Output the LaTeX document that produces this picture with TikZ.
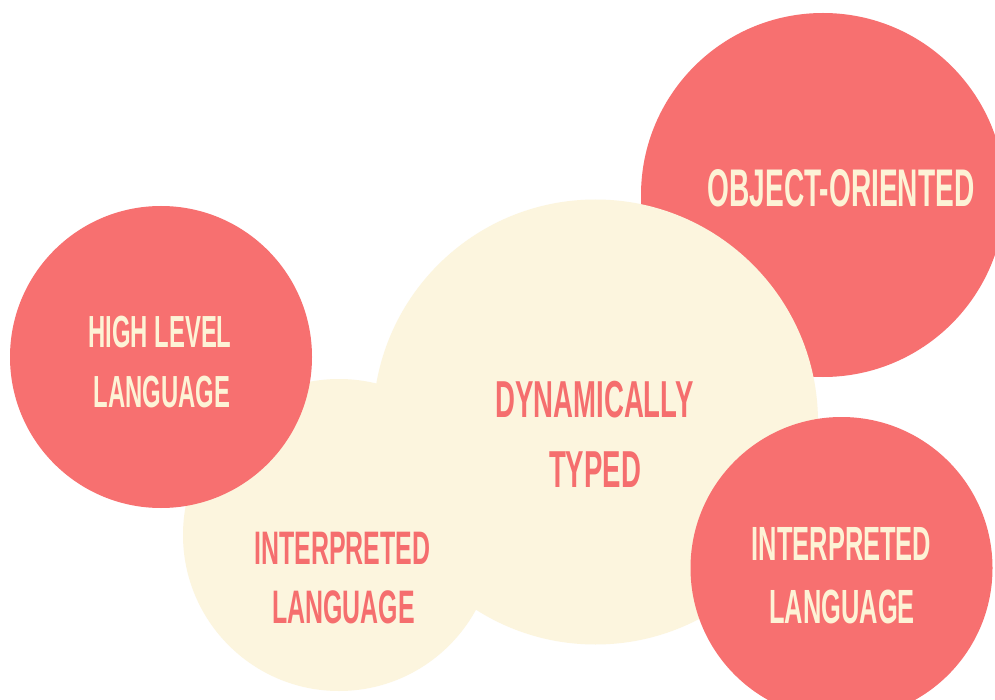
\documentclass[tikz,border=0pt]{standalone}
\usepackage{fontspec}
\newfontfamily\condfont[FakeStretch=0.53]{Liberation Sans}
\definecolor{coral}{RGB}{247,112,112}
\definecolor{creamy}{RGB}{252,245,222}
\definecolor{lighttext}{RGB}{253,243,214}
\definecolor{redtext}{RGB}{245,110,110}
\begin{document}
\begin{tikzpicture}[x=1pt,y=-1pt,
  bubble/.style={circle,inner sep=0pt,draw=none},
  redbubble/.style={bubble,fill=coral},
  creambubble/.style={bubble,fill=creamy},
  onred/.style={anchor=base,inner sep=0pt,text=lighttext,font=\condfont\bfseries},
  oncream/.style={anchor=base,inner sep=0pt,text=redtext,font=\condfont\bfseries}]
\useasboundingbox (0,0) rectangle (995,700);
\clip (0,0) rectangle (995,700);
\fill[white] (0,0) rectangle (995,700);
% circles
\node[redbubble,minimum size=364pt] (oo) at (823,195) {};
\node[creambubble,minimum size=312pt] (il) at (339,535) {};
\node[creambubble,minimum size=445pt] (dt) at (595.5,422) {};
\node[redbubble,minimum size=302pt] (hl) at (161,357) {};
\node[redbubble,minimum size=302pt] (ir) at (841.5,568) {};
% texts
\node[onred] (hl1) at (160,347) {\fontsize{45}{45}\selectfont HIGH LEVEL};
\node[onred] (hl2) at (162,407) {\fontsize{45}{45}\selectfont LANGUAGE};
\node[onred] (oo1) at (841,207) {\fontsize{53}{53}\selectfont OBJECT-ORIENTED};
\node[oncream] (dt1) at (594.5,417) {\fontsize{52}{52}\selectfont DYNAMICALLY};
\node[oncream] (dt2) at (595,487) {\fontsize{52}{52}\selectfont TYPED};
\node[oncream] (il1) at (342.5,564) {\fontsize{47}{47}\selectfont INTERPRETED};
\node[oncream] (il2) at (343.5,623) {\fontsize{47}{47}\selectfont LANGUAGE};
\node[onred] (ir1) at (841.5,560) {\fontsize{48}{48}\selectfont INTERPRETED};
\node[onred] (ir2) at (842,623) {\fontsize{48}{48}\selectfont LANGUAGE};
\end{tikzpicture}
\end{document}
